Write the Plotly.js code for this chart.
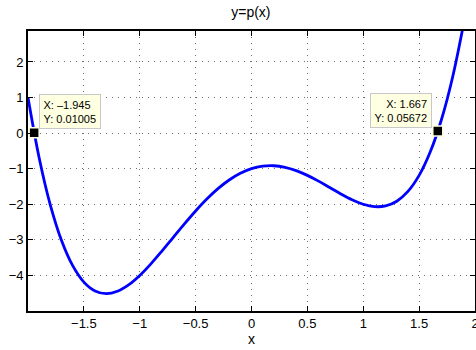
<!DOCTYPE html>
<html>
<head>
<meta charset="utf-8">
<script src="https://cdn.plot.ly/plotly-3.0.1.min.js"></script>
<style>
html,body{margin:0;padding:0;background:#fff;}
#chart{width:476px;height:350px;}
</style>
</head>
<body>
<div id="chart"></div>
<script>
// Curve points
const curveX = [-2.0, -1.9, -1.8, -1.7, -1.6, -1.5, -1.4, -1.3, -1.2, -1.1, -1.0, -0.9, -0.8, -0.7, -0.6, -0.5, -0.4, -0.3, -0.2, -0.1, 0.0, 0.1, 0.2, 0.3, 0.4, 0.5, 0.6, 0.7, 0.8, 0.9, 1.0, 1.1, 1.2, 1.3, 1.4, 1.5, 1.6, 1.7, 1.8, 1.9];
const curveY = [1.000, -0.698, -2.022, -3.018, -3.726, -4.188, -4.438, -4.514, -4.446, -4.266, -4.000, -3.674, -3.310, -2.930, -2.550, -2.188, -1.854, -1.562, -1.318, -1.130, -1.000, -0.930, -0.918, -0.962, -1.054, -1.188, -1.350, -1.530, -1.710, -1.874, -2.000, -2.066, -2.046, -1.914, -1.638, -1.188, -0.526, 0.382, 1.578, 3.102];

// Data tips
const tipX = [-1.945, 1.667];
const tipY = [0.01005, 0.05672];
const tipXText = ['\u20131.945', '1.667'];
const tipYText = ['0.01005', '0.05672'];

// Axis ticks
const xTicks = [-1.5, -1, -0.5, 0, 0.5, 1, 1.5, 2];
const xTickText = ['\u22121.5', '\u22121', '\u22120.5', '0', '0.5', '1', '1.5', '2'];
const yTicks = [-4, -3, -2, -1, 0, 1, 2];
const yTickText = ['\u22124', '\u22123', '\u22122', '\u22121', '0', '1', '2'];

const font = 'Liberation Sans, Arial, Helvetica, sans-serif';

const traces = [
  {
    x: curveX, y: curveY, type: 'scatter', mode: 'lines',
    line: {color: '#0000ff', width: 2.8, shape: 'spline', smoothing: 1},
    hoverinfo: 'skip'
  },
  {
    x: tipX, y: tipY, type: 'scatter', mode: 'markers',
    marker: {symbol: 'square', size: 10, color: '#000000', line: {color: '#ffffe1', width: 1.5}},
    hoverinfo: 'skip'
  }
];

const tipStyle = [
  {xanchor: 'left', xshift: 4.5, yshift: 4, align: 'left'},
  {xanchor: 'right', xshift: -5.5, yshift: 3.5, align: 'right'}
];

const annotations = tipX.map((xv, i) => ({
  x: xv, y: tipY[i], xref: 'x', yref: 'y',
  text: 'X: ' + tipXText[i] + '<br>Y: ' + tipYText[i],
  showarrow: false,
  xanchor: tipStyle[i].xanchor, yanchor: 'bottom',
  xshift: tipStyle[i].xshift, yshift: tipStyle[i].yshift,
  align: tipStyle[i].align,
  bgcolor: '#ffffe1', bordercolor: '#c8c8c8', borderwidth: 1, borderpad: 3.5,
  font: {family: font, size: 11, color: '#000'}
}));

const gridStyle = {showgrid: true, gridcolor: '#6e6e6e', griddash: '1px,5px', gridwidth: 1};

const layout = {
  width: 476, height: 350,
  margin: {l: 28, r: 1, t: 31, b: 39, pad: 0},
  paper_bgcolor: '#ffffff', plot_bgcolor: '#ffffff',
  showlegend: false,
  font: {family: font, size: 13, color: '#000'},
  title: {text: 'y=p(x)', x: 0.527, xanchor: 'center', y: 0.965, yanchor: 'middle', font: {family: font, size: 14, color: '#000'}},
  xaxis: Object.assign({
    range: [-2, 2], tickvals: xTicks, ticktext: xTickText,
    ticks: 'inside', ticklen: 5, tickwidth: 1, tickcolor: '#000',
    showline: true, linecolor: '#000', linewidth: 1.8, mirror: 'ticks',
    zeroline: false, ticklabeloverflow: 'allow',
    tickfont: {family: font, size: 13, color: '#000'},
    title: {text: 'x', font: {family: font, size: 14, color: '#000'}, standoff: 4}
  }, gridStyle),
  yaxis: Object.assign({
    range: [-5, 2.87], tickvals: yTicks, ticktext: yTickText,
    ticks: 'inside', ticklen: 5, tickwidth: 1, tickcolor: '#000',
    showline: true, linecolor: '#000', linewidth: 1.8, mirror: 'ticks',
    zeroline: false,
    tickfont: {family: font, size: 13, color: '#000'}
  }, gridStyle),
  annotations: annotations
};

Plotly.newPlot('chart', traces, layout, {displayModeBar: false, staticPlot: true});
</script>
</body>
</html>
